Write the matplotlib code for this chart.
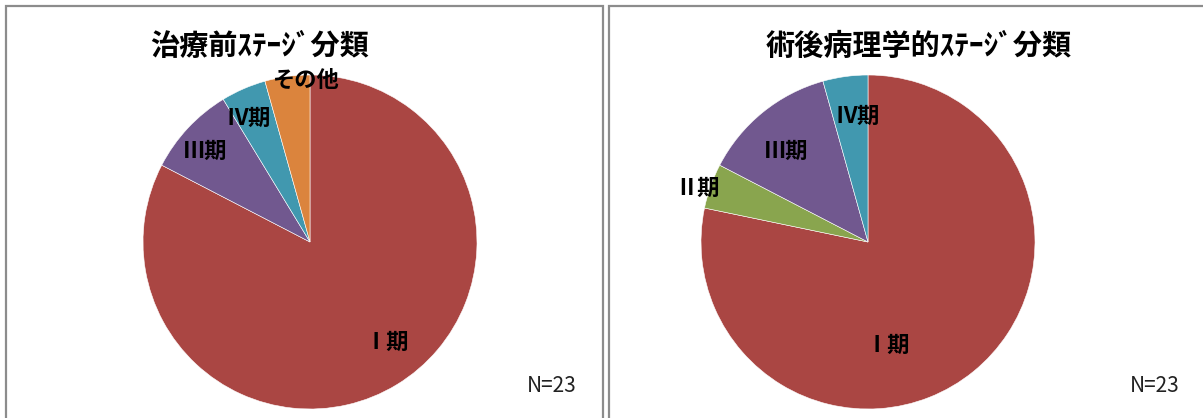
import matplotlib.pyplot as plt
from matplotlib.patches import Rectangle

plt.rcParams['font.family'] = ['Noto Sans CJK JP', 'DejaVu Sans']

# data
titles = ["治療前ｽﾃｰｼﾞ分類", "術後病理学的ｽﾃｰｼﾞ分類"]
labels_pre = ["Ⅰ期", "Ⅲ期", "Ⅳ期", "その他"]
counts_pre = [19, 2, 1, 1]
labels_post = ["Ⅰ期", "Ⅱ期", "Ⅲ期", "Ⅳ期"]
counts_post = [18, 1, 3, 1]
n_text = "N=23"

# colours
col_pre = ["#AA4643", "#71588F", "#4198AF", "#DB843D"]
col_post = ["#AA4643", "#89A54E", "#71588F", "#4198AF"]

# label placement (pie data coords, radius = 1)
pos_pre = [(0.46, -0.60), (-0.63, 0.54), (-0.37, 0.74), (-0.03, 0.97)]
pos_post = [(0.12, -0.62), (-1.02, 0.32), (-0.49, 0.54), (-0.06, 0.75)]

W, H = 1203, 418
fig = plt.figure(figsize=(W / 100, H / 100), dpi=100)

# panel borders
fig.patches.append(Rectangle((5.5 / W, -0.1), 597 / W, 1.1 - 6 / H,
                             transform=fig.transFigure, fill=False,
                             edgecolor="#8c8c8c", linewidth=1.6))
fig.patches.append(Rectangle((608.5 / W, -0.1), 700 / W, 1.1 - 6 / H,
                             transform=fig.transFigure, fill=False,
                             edgecolor="#8c8c8c", linewidth=1.6))

panels = [
    (titles[0], labels_pre, counts_pre, col_pre, pos_pre, 310, 260, 552),
    (titles[1], labels_post, counts_post, col_post, pos_post, 868, 919, 1155),
]
R = 167
for title, labels, counts, cols, pos, cx, tx, nx in panels:
    ax = fig.add_axes([(cx - R) / W, 1 - (242 + R) / H, 2 * R / W, 2 * R / H])
    ax.pie(counts, colors=cols, startangle=90, counterclock=False,
           radius=1, wedgeprops=dict(edgecolor="white", linewidth=0.4))
    ax.set_xlim(-1, 1)
    ax.set_ylim(-1, 1)
    ax.set_aspect("equal")
    ax.axis("off")
    for lab, (x, y) in zip(labels, pos):
        ax.text(x, y, lab, ha="center", va="center", fontsize=16,
                fontweight="bold", color="black")
    fig.text(tx / W, 1 - 46 / H, title, ha="center", va="center",
             fontsize=21, fontweight="bold")
    fig.text(nx / W, 1 - 386 / H, n_text, ha="center", va="center",
             fontsize=15, color="#222222")

fig.savefig("out.png", dpi=100)
